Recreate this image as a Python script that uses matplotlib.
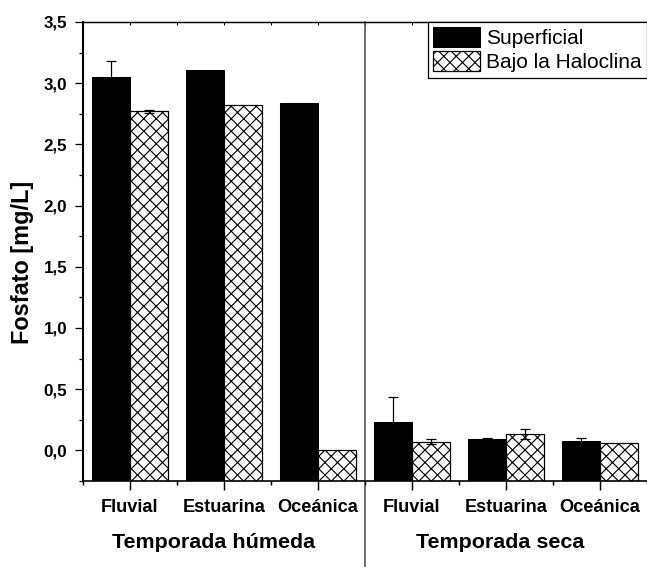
import numpy as np
import matplotlib
matplotlib.use("Agg")
import matplotlib.pyplot as plt
from matplotlib.ticker import MultipleLocator, FuncFormatter, FixedLocator

plt.rcParams['font.family'] = ['Liberation Sans', 'DejaVu Sans']
plt.rcParams['hatch.linewidth'] = 0.55

# Fosfato por zona y temporada
zonas = ["Fluvial", "Estuarina", "Oceánica", "Fluvial", "Estuarina", "Oceánica"]
temporadas = ["Temporada húmeda", "Temporada seca"]
superficial = [3.05, 3.11, 2.84, 0.23, 0.09, 0.08]
superficial_err = [0.13, 0.0, 0.0, 0.21, 0.01, 0.025]
haloclina = [2.77, 2.82, 0.0, 0.07, 0.135, 0.06]
haloclina_err = [0.015, 0.0, 0.0, 0.02, 0.04, 0.0]

base = -0.25
w = 0.4
x = np.arange(len(zonas))

fig = plt.figure(figsize=(647 / 150, 567 / 150), dpi=150)
ax = fig.add_axes([83 / 647, 86 / 567, 564 / 647, 459 / 567])

sup = np.array(superficial)
hal = np.array(haloclina)
ax.bar(x - w / 2, sup - base, w, bottom=base, color="black",
       edgecolor="black", linewidth=0.5, label="Superficial", zorder=2)
ax.bar(x + w / 2, hal - base, w, bottom=base, color="white",
       edgecolor="black", linewidth=0.6, hatch="xxxx",
       label="Bajo la Haloclina", zorder=2)

for xs, vals, errs in [(x - w / 2, superficial, superficial_err),
                       (x + w / 2, haloclina, haloclina_err)]:
    for xi, v, e in zip(xs, vals, errs):
        if e > 0:
            ax.errorbar(xi, v, yerr=e, fmt="none", ecolor="black",
                        elinewidth=0.6, capsize=2.4, capthick=0.6, zorder=3)

ax.set_xlim(-0.5, 5.5)
ax.set_ylim(-0.25, 3.5)

ax.yaxis.set_major_locator(MultipleLocator(0.5))
ax.yaxis.set_minor_locator(FixedLocator(np.arange(-0.25, 3.5, 0.5)))
ax.yaxis.set_major_formatter(FuncFormatter(lambda v, p: f"{v:.1f}".replace(".", ",")))
ax.set_xticks(x)
ax.set_xticklabels(zonas, fontsize=8.7, fontweight="bold")
ax.xaxis.set_minor_locator(FixedLocator(np.arange(-0.5, 5.6, 1.0)))

ax.tick_params(axis="y", which="major", direction="out", length=4, width=0.6,
               labelsize=8.2, pad=3.5)
ax.tick_params(axis="y", which="minor", direction="out", length=2, width=0.6)
ax.tick_params(axis="x", which="major", direction="out", length=4.5, width=0.7,
               pad=4)
ax.tick_params(axis="x", which="minor", direction="out", length=2, width=0.7)
for lab in ax.get_yticklabels():
    lab.set_fontweight("bold")

ax.spines["right"].set_visible(False)
ax.spines["left"].set_linewidth(1.0)
ax.spines["bottom"].set_linewidth(0.8)
ax.spines["top"].set_linewidth(0.6)

top = ax.secondary_xaxis("top")
top.set_xticks(x)
top.set_xticklabels([])
top.xaxis.set_minor_locator(FixedLocator(np.arange(-0.5, 5.6, 1.0)))
top.tick_params(which="both", direction="in", length=1.5, width=0.5)
top.spines["top"].set_linewidth(0.6)

# separador entre temporadas
ax.axvline(2.5, ymin=-0.19, ymax=1, color="#555555", linewidth=0.8,
           clip_on=False, zorder=1)

ax.text(0.89, -0.133, temporadas[0], transform=ax.get_xaxis_transform(),
        ha="center", va="center", fontsize=10.3, fontweight="bold")
ax.text(3.94, -0.133, temporadas[1], transform=ax.get_xaxis_transform(),
        ha="center", va="center", fontsize=10.3, fontweight="bold")

ax.set_ylabel("Fosfato [mg/L]", fontsize=11.3, fontweight="bold", va="center")
ax.yaxis.set_label_coords(-0.107, 0.477)

leg = ax.legend(loc="upper right", fontsize=10, frameon=True, fancybox=False,
                edgecolor="black", framealpha=1, borderaxespad=0,
                handlelength=2.25, handleheight=1.1, handletextpad=0.3,
                labelspacing=0.15, borderpad=0.25)
leg.get_frame().set_linewidth(0.6)

fig.savefig("out.png", dpi=150, facecolor="white")
